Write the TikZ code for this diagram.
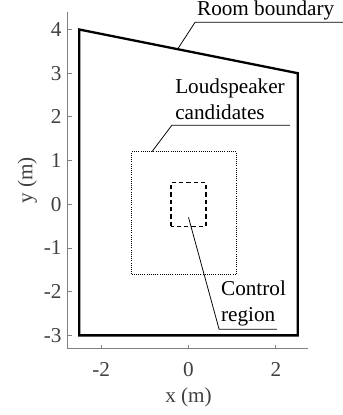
\documentclass[tikz,border=0pt]{standalone}
\usepackage{fontspec}
\setmainfont{Liberation Serif}
\usetikzlibrary{calc}

\tikzset{
  axisline/.style={black!50, line width=0.6pt},
  ticklab/.style={text=black!75, inner sep=0pt},
  leader/.style={black, line width=0.5pt},
  lbl/.style={inner sep=0pt, anchor=south west, align=left},
  room/.style={black, line width=1.5pt, line join=miter},
  cand/.style={black, line width=0.6pt, dash pattern=on 0.6pt off 0.8pt},
  ctrl/.style={black, line width=0.8pt, dash pattern=on 2.8pt off 2pt}
}

\begin{document}
\begin{tikzpicture}[font=\fontsize{13.8}{16.5}\selectfont]
\useasboundingbox (-4.314,-4.822) rectangle (3.535,4.675);

% axes
\coordinate (org) at (-2.76,-3.31);
\coordinate (xend) at (2.73,-3.31);
\coordinate (yend) at (-2.76,4.4);
\draw[axisline] (yend) -- (org) -- (xend);
\foreach \x in {-2,0,2}{
  \draw[axisline] (\x,-3.31) -- ++(0,0.1);
  \node[ticklab] (xt\x) at (\x,-3.79) {\x};
}
\foreach \y in {-3,...,4}{
  \draw[axisline] (-2.76,\y) -- ++(0.1,0);
  \node[ticklab, anchor=east] (yt\y) at (-2.9,\y) {\y};
}
\node[ticklab] (xlab) at (0,-4.41) {x (m)};
\node[ticklab, rotate=90] (ylab) at (-3.69,0.55) {y (m)};

% room and regions
\coordinate (rbl) at (-2.5,-3);
\coordinate (rtl) at (-2.5,4);
\coordinate (rtr) at (2.5,3);
\coordinate (rbr) at (2.5,-3);
\draw[room] (rbl) -- (rtl) -- (rtr) -- (rbr) -- cycle;
\draw[cand] (-1.3,-1.6) rectangle (1.1,1.2);
\draw[ctrl] (-0.4,-0.5) rectangle (0.4,0.5);

% labels
\coordinate (roomu) at (0.15,4.165);
\coordinate (roomr) at (3.535,4.165);
\coordinate (roompt) at ($(rtl)!0.45!(rtr)$);
\node[lbl] (roomtxt) at (0.19,4.2) {Room boundary};
\draw[leader] (roomr) -- (roomu) -- (roompt);

\coordinate (candu) at (-0.38,1.81);
\coordinate (candr) at (2.32,1.81);
\coordinate (candpt) at (-0.84,1.2);
\node[lbl] (candtxt) at (-0.31,1.94) {Loudspeaker\\candidates};
\draw[leader] (candr) -- (candu) -- (candpt);

\coordinate (ctrlu) at (0.70,-2.86);
\coordinate (ctrlr) at (2.02,-2.86);
\coordinate (ctrlpt) at (0,-0.3);
\node[lbl] (ctrltxt) at (0.74,-2.79) {Control\\region};
\draw[leader] (ctrlr) -- (ctrlu) -- (ctrlpt);
\end{tikzpicture}
\end{document}
